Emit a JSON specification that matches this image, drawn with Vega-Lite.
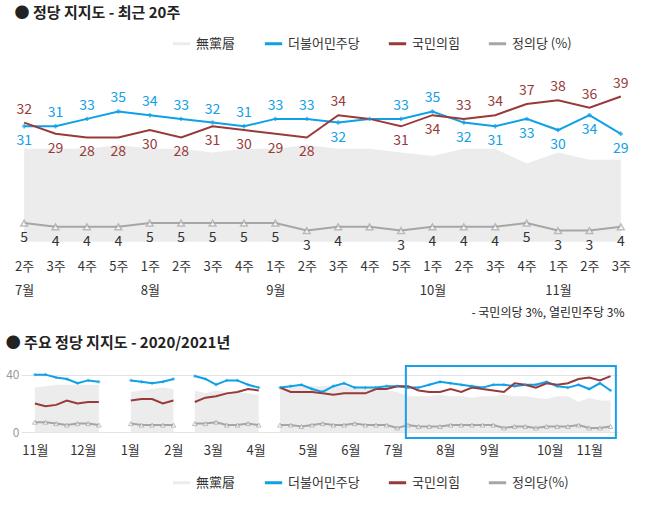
{
  "$schema": "https://vega.github.io/schema/vega-lite/v6.json",
  "background": "white",
  "padding": {"left": 5, "right": 5, "top": 6, "bottom": 2},
  "config": {
    "font": "Noto Sans CJK KR",
    "view": {"stroke": null},
    "title": {"anchor": "start", "fontSize": 15, "fontWeight": "bold", "color": "#222"}
  },
  "datasets": {
    "top": [
      {"i": 0, "無黨層": 25, "더불어민주당": 31, "국민의힘": 32, "정의당 (%)": 5},
      {"i": 1, "無黨層": 25, "더불어민주당": 31, "국민의힘": 29, "정의당 (%)": 4},
      {"i": 2, "無黨層": 25, "더불어민주당": 33, "국민의힘": 28, "정의당 (%)": 4},
      {"i": 3, "無黨層": 26, "더불어민주당": 35, "국민의힘": 28, "정의당 (%)": 4},
      {"i": 4, "無黨層": 25, "더불어민주당": 34, "국민의힘": 30, "정의당 (%)": 5},
      {"i": 5, "無黨層": 25, "더불어민주당": 33, "국민의힘": 28, "정의당 (%)": 5},
      {"i": 6, "無黨層": 24, "더불어민주당": 32, "국민의힘": 31, "정의당 (%)": 5},
      {"i": 7, "無黨層": 25, "더불어민주당": 31, "국민의힘": 30, "정의당 (%)": 5},
      {"i": 8, "無黨層": 25, "더불어민주당": 33, "국민의힘": 29, "정의당 (%)": 5},
      {"i": 9, "無黨層": 26, "더불어민주당": 33, "국민의힘": 28, "정의당 (%)": 3},
      {"i": 10, "無黨層": 25, "더불어민주당": 32, "국민의힘": 34, "정의당 (%)": 4},
      {"i": 11, "無黨層": 25, "더불어민주당": 33, "국민의힘": 33, "정의당 (%)": 4},
      {"i": 12, "無黨層": 24, "더불어민주당": 33, "국민의힘": 31, "정의당 (%)": 3},
      {"i": 13, "無黨層": 23, "더불어민주당": 35, "국민의힘": 34, "정의당 (%)": 4},
      {"i": 14, "無黨層": 25, "더불어민주당": 32, "국민의힘": 33, "정의당 (%)": 4},
      {"i": 15, "無黨層": 25, "더불어민주당": 31, "국민의힘": 34, "정의당 (%)": 4},
      {"i": 16, "無黨層": 21, "더불어민주당": 33, "국민의힘": 37, "정의당 (%)": 5},
      {"i": 17, "無黨層": 24, "더불어민주당": 30, "국민의힘": 38, "정의당 (%)": 3},
      {"i": 18, "無黨層": 22, "더불어민주당": 34, "국민의힘": 36, "정의당 (%)": 3},
      {"i": 19, "無黨層": 22, "더불어민주당": 29, "국민의힘": 39, "정의당 (%)": 4}
    ],
    "all": [
      {"i": 0, "seg": 1, "無黨層": 31, "더불어민주당": 40, "국민의힘": 20, "정의당 (%)": 7},
      {"i": 1, "seg": 1, "無黨層": 32, "더불어민주당": 40, "국민의힘": 18, "정의당 (%)": 7},
      {"i": 2, "seg": 1, "無黨層": 33, "더불어민주당": 38, "국민의힘": 19, "정의당 (%)": 6},
      {"i": 3, "seg": 1, "無黨層": 33, "더불어민주당": 37, "국민의힘": 22, "정의당 (%)": 5},
      {"i": 4, "seg": 1, "無黨層": 33, "더불어민주당": 34, "국민의힘": 20, "정의당 (%)": 6},
      {"i": 5, "seg": 1, "無黨層": 33, "더불어민주당": 36, "국민의힘": 21, "정의당 (%)": 6},
      {"i": 6, "seg": 1, "無黨層": 33, "더불어민주당": 35, "국민의힘": 21, "정의당 (%)": 5},
      {"i": 9, "seg": 2, "無黨層": 28, "더불어민주당": 36, "국민의힘": 22, "정의당 (%)": 6},
      {"i": 10, "seg": 2, "無黨層": 29, "더불어민주당": 35, "국민의힘": 23, "정의당 (%)": 5},
      {"i": 11, "seg": 2, "無黨層": 30, "더불어민주당": 34, "국민의힘": 23, "정의당 (%)": 5},
      {"i": 12, "seg": 2, "無黨層": 31, "더불어민주당": 35, "국민의힘": 20, "정의당 (%)": 5},
      {"i": 13, "seg": 2, "無黨層": 30, "더불어민주당": 37, "국민의힘": 22, "정의당 (%)": 5},
      {"i": 15, "seg": 3, "無黨層": 29, "더불어민주당": 39, "국민의힘": 21, "정의당 (%)": 6},
      {"i": 16, "seg": 3, "無黨層": 27, "더불어민주당": 37, "국민의힘": 24, "정의당 (%)": 6},
      {"i": 17, "seg": 3, "無黨層": 29, "더불어민주당": 33, "국민의힘": 25, "정의당 (%)": 7},
      {"i": 18, "seg": 3, "無黨層": 28, "더불어민주당": 36, "국민의힘": 27, "정의당 (%)": 5},
      {"i": 19, "seg": 3, "無黨層": 28, "더불어민주당": 36, "국민의힘": 28, "정의당 (%)": 5},
      {"i": 20, "seg": 3, "無黨層": 27, "더불어민주당": 33, "국민의힘": 30, "정의당 (%)": 6},
      {"i": 21, "seg": 3, "無黨層": 26, "더불어민주당": 31, "국민의힘": 29, "정의당 (%)": 5},
      {"i": 23, "seg": 4, "無黨層": 32, "더불어민주당": 31, "국민의힘": 31, "정의당 (%)": 5},
      {"i": 24, "seg": 4, "無黨層": 32, "더불어민주당": 32, "국민의힘": 28, "정의당 (%)": 5},
      {"i": 25, "seg": 4, "無黨層": 32, "더불어민주당": 33, "국민의힘": 28, "정의당 (%)": 4},
      {"i": 26, "seg": 4, "無黨層": 32, "더불어민주당": 30, "국민의힘": 28, "정의당 (%)": 5},
      {"i": 27, "seg": 4, "無黨層": 32, "더불어민주당": 28, "국민의힘": 27, "정의당 (%)": 6},
      {"i": 28, "seg": 4, "無黨層": 32, "더불어민주당": 32, "국민의힘": 26, "정의당 (%)": 5},
      {"i": 29, "seg": 4, "無黨層": 32, "더불어민주당": 34, "국민의힘": 27, "정의당 (%)": 5},
      {"i": 30, "seg": 4, "無黨層": 31, "더불어민주당": 31, "국민의힘": 27, "정의당 (%)": 6},
      {"i": 31, "seg": 4, "無黨層": 31, "더불어민주당": 31, "국민의힘": 27, "정의당 (%)": 5},
      {"i": 32, "seg": 4, "無黨層": 31, "더불어민주당": 31, "국민의힘": 30, "정의당 (%)": 5},
      {"i": 33, "seg": 4, "無黨層": 29, "더불어민주당": 32, "국민의힘": 30, "정의당 (%)": 5},
      {"i": 34, "seg": 4, "無黨層": 28, "더불어민주당": 32, "국민의힘": 32, "정의당 (%)": 3},
      {"i": 35, "seg": 4, "無黨層": 25, "더불어민주당": 31, "국민의힘": 32, "정의당 (%)": 5},
      {"i": 36, "seg": 4, "無黨層": 25, "더불어민주당": 31, "국민의힘": 29, "정의당 (%)": 4},
      {"i": 37, "seg": 4, "無黨層": 25, "더불어민주당": 33, "국민의힘": 28, "정의당 (%)": 4},
      {"i": 38, "seg": 4, "無黨層": 26, "더불어민주당": 35, "국민의힘": 28, "정의당 (%)": 4},
      {"i": 39, "seg": 4, "無黨層": 25, "더불어민주당": 34, "국민의힘": 30, "정의당 (%)": 5},
      {"i": 40, "seg": 4, "無黨層": 25, "더불어민주당": 33, "국민의힘": 28, "정의당 (%)": 5},
      {"i": 41, "seg": 4, "無黨層": 24, "더불어민주당": 32, "국민의힘": 31, "정의당 (%)": 5},
      {"i": 42, "seg": 4, "無黨層": 25, "더불어민주당": 31, "국민의힘": 30, "정의당 (%)": 5},
      {"i": 43, "seg": 4, "無黨層": 25, "더불어민주당": 33, "국민의힘": 29, "정의당 (%)": 5},
      {"i": 44, "seg": 4, "無黨層": 26, "더불어민주당": 33, "국민의힘": 28, "정의당 (%)": 3},
      {"i": 45, "seg": 4, "無黨層": 25, "더불어민주당": 32, "국민의힘": 34, "정의당 (%)": 4},
      {"i": 46, "seg": 4, "無黨層": 25, "더불어민주당": 33, "국민의힘": 33, "정의당 (%)": 4},
      {"i": 47, "seg": 4, "無黨層": 24, "더불어민주당": 33, "국민의힘": 31, "정의당 (%)": 3},
      {"i": 48, "seg": 4, "無黨層": 23, "더불어민주당": 35, "국민의힘": 34, "정의당 (%)": 4},
      {"i": 49, "seg": 4, "無黨層": 25, "더불어민주당": 32, "국민의힘": 33, "정의당 (%)": 4},
      {"i": 50, "seg": 4, "無黨層": 25, "더불어민주당": 31, "국민의힘": 34, "정의당 (%)": 4},
      {"i": 51, "seg": 4, "無黨層": 21, "더불어민주당": 33, "국민의힘": 37, "정의당 (%)": 5},
      {"i": 52, "seg": 4, "無黨層": 24, "더불어민주당": 30, "국민의힘": 38, "정의당 (%)": 3},
      {"i": 53, "seg": 4, "無黨層": 22, "더불어민주당": 34, "국민의힘": 36, "정의당 (%)": 3},
      {"i": 54, "seg": 4, "無黨層": 22, "더불어민주당": 29, "국민의힘": 39, "정의당 (%)": 4}
    ],
    "box": [{"x1": 34.8, "x2": 54.5, "y1": -4, "y2": 46}]
  },
  "vconcat": [
    {
      "title": {"text": "● 정당 지지도 - 최근 20주", "offset": 12},
      "width": 603,
      "height": 163,
      "data": {"name": "top"},
      "encoding": {
        "x": {
          "field": "i", "type": "ordinal",
          "scale": {"type": "point", "padding": 0.1},
          "axis": {
            "domain": false, "ticks": false, "labelAngle": 0, "labelFontSize": 13, "labelColor": "#333",
            "labelPadding": 9, "labelLineHeight": 24,
            "labelExpr": "[['2주','7월'],['3주',''],['4주',''],['5주',''],['1주','8월'],['2주',''],['3주',''],['4주',''],['1주','9월'],['2주',''],['3주',''],['4주',''],['5주',''],['1주','10월'],['2주',''],['3주',''],['4주',''],['1주','11월'],['2주',''],['3주','']][datum.value]",
            "title": "- 국민의당 3%, 열린민주당 3%", "titleAnchor": "end", "titleAlign": "right",
            "titleFontWeight": "normal", "titleFontSize": 12, "titleColor": "#222", "titlePadding": 10
          }
        }
      },
      "layer": [
        {
          "transform": [{"fold": ["無黨層", "더불어민주당", "국민의힘", "정의당 (%)"], "as": ["party", "v"]}, {"filter": "datum.party == '無黨層'"}],
          "mark": {"type": "area", "opacity": 1},
          "encoding": {
            "y": {"field": "v", "type": "quantitative", "scale": {"domain": [-2.5, 41.3], "nice": false, "zero": false}, "axis": null},
            "y2": {"datum": 0},
            "color": {
              "field": "party", "type": "nominal",
              "scale": {"domain": ["無黨層", "더불어민주당", "국민의힘", "정의당 (%)"], "range": ["#ececec", "#0fa0e6", "#983a3a", "#a6a6a6"]},
              "legend": {
                "orient": "none", "legendX": 150, "legendY": -55, "direction": "horizontal", "title": null,
                "symbolType": "stroke", "symbolStrokeWidth": 3, "symbolSize": 300, "labelFontSize": 13, "labelColor": "#333", "columnPadding": 22
              }
            }
          }
        },
        {
          "transform": [{"fold": ["더불어민주당", "국민의힘", "정의당 (%)"], "as": ["party", "v"]}],
          "mark": {"type": "line", "strokeWidth": 2},
          "encoding": {
            "y": {"field": "v", "type": "quantitative"},
            "color": {"field": "party", "type": "nominal"}
          }
        },
        {
          "mark": {"type": "point", "shape": "cross", "filled": true, "size": 20, "color": "#0fa0e6"},
          "encoding": {"y": {"field": "더불어민주당", "type": "quantitative"}}
        },
        {
          "mark": {"type": "point", "shape": "triangle-up", "filled": true, "fill": "white", "stroke": "#a6a6a6", "strokeWidth": 1.5, "size": 45},
          "encoding": {"y": {"field": "정의당 (%)", "type": "quantitative"}}
        },
        {
          "transform": [{"filter": "datum.i != 11 && datum['더불어민주당'] >= datum['국민의힘']"}],
          "mark": {"type": "text", "dy": -13, "fontSize": 14, "color": "#0fa0e6"},
          "encoding": {"y": {"field": "더불어민주당", "type": "quantitative"}, "text": {"field": "더불어민주당"}}
        },
        {
          "transform": [{"filter": "datum.i != 11 && datum['더불어민주당'] < datum['국민의힘']"}],
          "mark": {"type": "text", "dy": 15, "fontSize": 14, "color": "#0fa0e6"},
          "encoding": {"y": {"field": "더불어민주당", "type": "quantitative"}, "text": {"field": "더불어민주당"}}
        },
        {
          "transform": [{"filter": "datum.i != 11 && datum['국민의힘'] > datum['더불어민주당']"}],
          "mark": {"type": "text", "dy": -13, "fontSize": 14, "color": "#983a3a"},
          "encoding": {"y": {"field": "국민의힘", "type": "quantitative"}, "text": {"field": "국민의힘"}}
        },
        {
          "transform": [{"filter": "datum.i != 11 && datum['국민의힘'] <= datum['더불어민주당']"}],
          "mark": {"type": "text", "dy": 15, "fontSize": 14, "color": "#983a3a"},
          "encoding": {"y": {"field": "국민의힘", "type": "quantitative"}, "text": {"field": "국민의힘"}}
        },
        {
          "transform": [{"filter": "datum.i != 11"}],
          "mark": {"type": "text", "dy": 15, "fontSize": 14, "color": "#333"},
          "encoding": {"y": {"field": "정의당 (%)", "type": "quantitative"}, "text": {"field": "정의당 (%)"}}
        }
      ]
    },
    {
      "title": {"text": "● 주요 정당 지지도 - 2020/2021년", "offset": 14},
      "width": 597,
      "height": 72,
      "layer": [
        {
          "data": {"name": "all"},
          "transform": [{"fold": ["無黨層"], "as": ["party", "v"]}],
          "mark": {"type": "area"},
          "encoding": {
            "x": {
              "field": "i", "type": "quantitative", "scale": {"domain": [-1.3, 54.7], "nice": false, "zero": false},
              "axis": {
                "values": [0, 4.5, 8.9, 13, 16.7, 20.7, 25.6, 29.6, 33.6, 38.5, 42.6, 48.3, 52],
                "labelExpr": "{'0':'11월','4.5':'12월','8.9':'1월','13':'2월','16.7':'3월','20.7':'4월','25.6':'5월','29.6':'6월','33.6':'7월','38.5':'8월','42.6':'9월','48.3':'10월','52':'11월'}[datum.value + '']",
                "grid": false, "ticks": false, "domain": false, "labelFontSize": 13, "labelColor": "#333", "labelPadding": 6, "title": null
              }
            },
            "y": {
              "field": "v", "type": "quantitative", "scale": {"domain": [-4, 46], "nice": false, "zero": false},
              "axis": {"values": [0, 20, 40], "grid": true, "gridColor": "#e4e4e4", "domain": false, "ticks": false, "labelColor": "#999", "labelFontSize": 12, "title": null}
            },
            "y2": {"datum": 0},
            "detail": {"field": "seg"},
            "color": {
              "field": "party", "type": "nominal",
              "scale": {"domain": ["無黨層", "더불어민주당", "국민의힘", "정의당 (%)"], "range": ["#ececec", "#0fa0e6", "#983a3a", "#a6a6a6"]},
              "legend": {
                "orient": "none", "legendX": 150, "legendY": 106, "direction": "horizontal", "title": null,
                "labelExpr": "replace(datum.label, ' (', '(')",
                "symbolType": "stroke", "symbolStrokeWidth": 3, "symbolSize": 300, "labelFontSize": 13, "labelColor": "#333", "columnPadding": 22
              }
            }
          }
        },
        {
          "data": {"name": "all"},
          "transform": [{"fold": ["더불어민주당", "국민의힘", "정의당 (%)"], "as": ["party", "v"]}],
          "mark": {"type": "line", "strokeWidth": 2},
          "encoding": {
            "x": {"field": "i", "type": "quantitative"},
            "y": {"field": "v", "type": "quantitative"},
            "detail": {"field": "seg"},
            "color": {"field": "party", "type": "nominal"}
          }
        },
        {
          "data": {"name": "all"},
          "mark": {"type": "point", "shape": "triangle-up", "filled": true, "fill": "white", "stroke": "#a6a6a6", "strokeWidth": 1, "size": 22},
          "encoding": {"x": {"field": "i", "type": "quantitative"}, "y": {"field": "정의당 (%)", "type": "quantitative"}}
        },
        {
          "data": {"name": "all"},
          "mark": {"type": "point", "shape": "cross", "filled": true, "size": 10, "color": "#0fa0e6"},
          "encoding": {"x": {"field": "i", "type": "quantitative"}, "y": {"field": "더불어민주당", "type": "quantitative"}}
        },
        {
          "data": {"name": "box"},
          "mark": {"type": "rect", "fill": null, "stroke": "#18a0e8", "strokeWidth": 2},
          "encoding": {
            "x": {"field": "x1", "type": "quantitative"},
            "x2": {"field": "x2"},
            "y": {"field": "y1", "type": "quantitative"},
            "y2": {"field": "y2"}
          }
        }
      ]
    }
  ],
  "spacing": 18,
  "resolve": {"scale": {"color": "independent"}, "legend": {"color": "independent"}}
}
